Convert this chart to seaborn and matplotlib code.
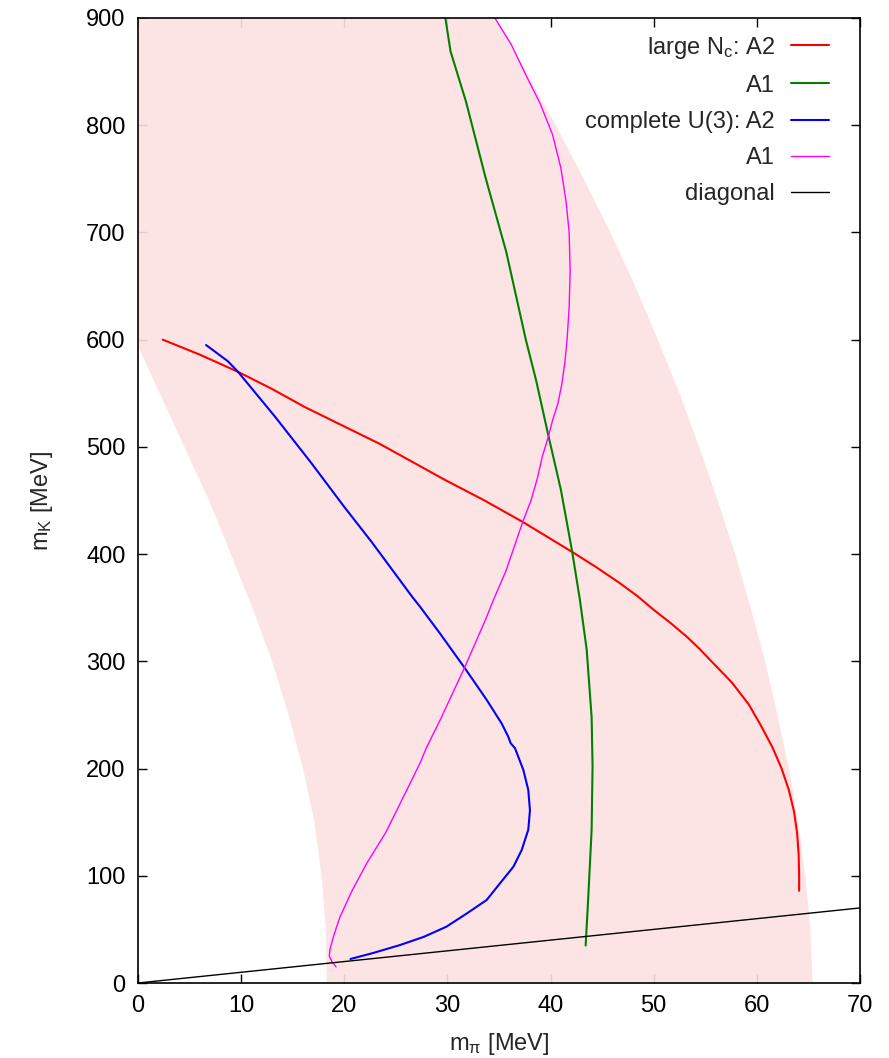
import numpy as np
import pandas as pd
import matplotlib
matplotlib.use("Agg")
import matplotlib.pyplot as plt
import seaborn as sns

# --- datos (m_pi, m_K) en MeV ---
band_left_x = [0.0, 0.0, 2.1, 4.5, 6.9, 9.0, 11.1, 13.0, 14.6, 16.0, 17.1, 17.8, 18.2, 18.3]
band_left_y = [900, 594, 550, 500, 450, 400, 350, 300, 250, 200, 150, 100, 50, 0]
band_right_x = [34.6, 37.6, 40.5, 43.2, 45.8, 48.2, 50.4, 52.5, 54.4, 56.2, 57.9,
                59.4, 60.8, 62.0, 63.1, 64.0, 64.7, 65.2, 65.4]
band_right_y = [900, 850, 800, 750, 700, 650, 600, 550, 500, 450, 400,
                350, 300, 250, 200, 150, 100, 50, 0]

nc_a2_x = [2.4, 6.0, 9.7, 13.0, 16.2, 19.8, 23.4, 26.6, 29.8, 33.6, 37.3, 39.7,
           42.1, 44.4, 46.7, 48.4, 50.0, 51.6, 53.2, 54.4, 55.6, 57.6, 59.2,
           60.4, 61.5, 62.4, 63.1, 63.6, 63.9, 64.05, 64.1, 64.1]
nc_a2_y = [600, 586, 570, 554, 537, 520, 503, 486, 469, 450, 430, 416,
           402, 388, 373, 361, 348, 336, 323, 312, 300, 280, 260,
           240, 220, 200, 180, 160, 140, 120, 100, 86]

nc_a1_x = [29.8, 30.3, 31.8, 33.7, 35.7, 37.6, 38.6, 39.8, 41.0, 42.1, 42.85,
           43.5, 43.98, 44.07, 43.98, 43.8, 43.6, 43.4]
nc_a1_y = [900, 869, 822, 751, 682, 600, 562, 510, 460, 402, 357,
           311, 248, 202, 143, 108, 70, 35]

u3_a2_x = [6.6, 8.7, 9.7, 13.3, 16.8, 20.0, 22.6, 26.6, 27.34, 29.28, 31.7,
           33.81, 35.26, 35.9, 36.13, 36.55, 37.36, 37.84, 38.0, 37.84, 37.2,
           36.4, 35.1, 33.8, 31.9, 29.9, 27.7, 25.4, 22.8, 20.6]
u3_a2_y = [595, 580, 570, 528, 485, 444, 412, 360, 351, 326, 293.5,
           264, 242, 229.7, 223.6, 219, 198.7, 180, 161, 143, 124,
           108.5, 93, 77.4, 65, 52.5, 43, 35.4, 28, 22.4]

u3_a1_x = [34.6, 36.2, 37.6, 39.0, 40.2, 41.0, 41.5, 41.8, 41.9, 41.8, 41.6,
           41.4, 41.1, 40.7, 40.2, 39.8, 39.2, 38.7, 38.1, 37.3, 35.7, 34.45,
           33.7, 31.7, 29.28, 27.99, 27.34, 25.6, 24.0, 22.2, 20.8, 19.6,
           19.0, 18.6, 18.55, 18.8, 19.2]
u3_a1_y = [900, 875, 847, 820, 791, 760, 729, 700, 664, 630, 600,
           580, 559, 540, 525, 510, 491, 470, 450, 430, 385, 357,
           339, 295, 245, 220, 205, 171, 140, 112, 87, 62,
           45, 31, 25, 20, 15]

diag_x = [0, 70]
diag_y = [0, 70]

x_ticks = list(range(0, 71, 10))
y_ticks = list(range(0, 901, 100))

sns.set_theme(style="ticks")
plt.rcParams["font.family"] = ["Liberation Sans", "DejaVu Sans"]
plt.rcParams["mathtext.fontset"] = "custom"
plt.rcParams["mathtext.rm"] = "Liberation Sans"
plt.rcParams["mathtext.it"] = "Liberation Sans:italic"

FS = 17

fig = plt.figure(figsize=(8.89, 10.58), dpi=100)
ax = fig.add_axes([138 / 889, 75 / 1058, 722 / 889, 965 / 1058])

# banda sombreada
poly_x = np.concatenate([band_left_x, band_right_x[::-1]])
poly_y = np.concatenate([band_left_y, band_right_y[::-1]])
ax.fill(poly_x, poly_y, color="#fde1e1", alpha=0.9, lw=0, zorder=1)

curves = [
    (nc_a2_x, nc_a2_y, "large N$_\\mathrm{c}$: A2", "#ff0000", 1.5),
    (nc_a1_x, nc_a1_y, "A1", "#008000", 1.5),
    (u3_a2_x, u3_a2_y, "complete U(3): A2", "#0000ff", 1.5),
    (u3_a1_x, u3_a1_y, "A1", "#ff00ff", 1.0),
    (diag_x, diag_y, "diagonal", "black", 1.0),
]
for xs, ys, lab, col, lw in curves:
    df = pd.DataFrame({"x": xs, "y": ys})
    sns.lineplot(data=df, x="x", y="y", sort=False, estimator=None,
                 color=col, lw=lw, label=lab, ax=ax, zorder=3)

ax.set_xlim(0, 70)
ax.set_ylim(0, 900)
ax.set_xticks(x_ticks)
ax.set_yticks(y_ticks)
ax.set_axisbelow(True)
ax.tick_params(direction="in", length=6.5, width=1, top=True, right=True,
               labelsize=FS, pad=9, colors="black")
for sp in ax.spines.values():
    sp.set_linewidth(1.2)
    sp.set_color("black")
    sp.set_zorder(4)

ax.set_xlabel("m$_\\mathrm{π}$ [MeV]", fontsize=FS, labelpad=10)
ax.set_ylabel("m$_\\mathrm{K}$ [MeV]", fontsize=FS, labelpad=22)

ax.legend(loc="upper right", frameon=False, markerfirst=False, fontsize=FS,
          handlelength=1.6, handletextpad=0.7, labelspacing=0.6,
          borderaxespad=0.3, bbox_to_anchor=(0.98, 1.0))

fig.savefig("out.png", dpi=100)
